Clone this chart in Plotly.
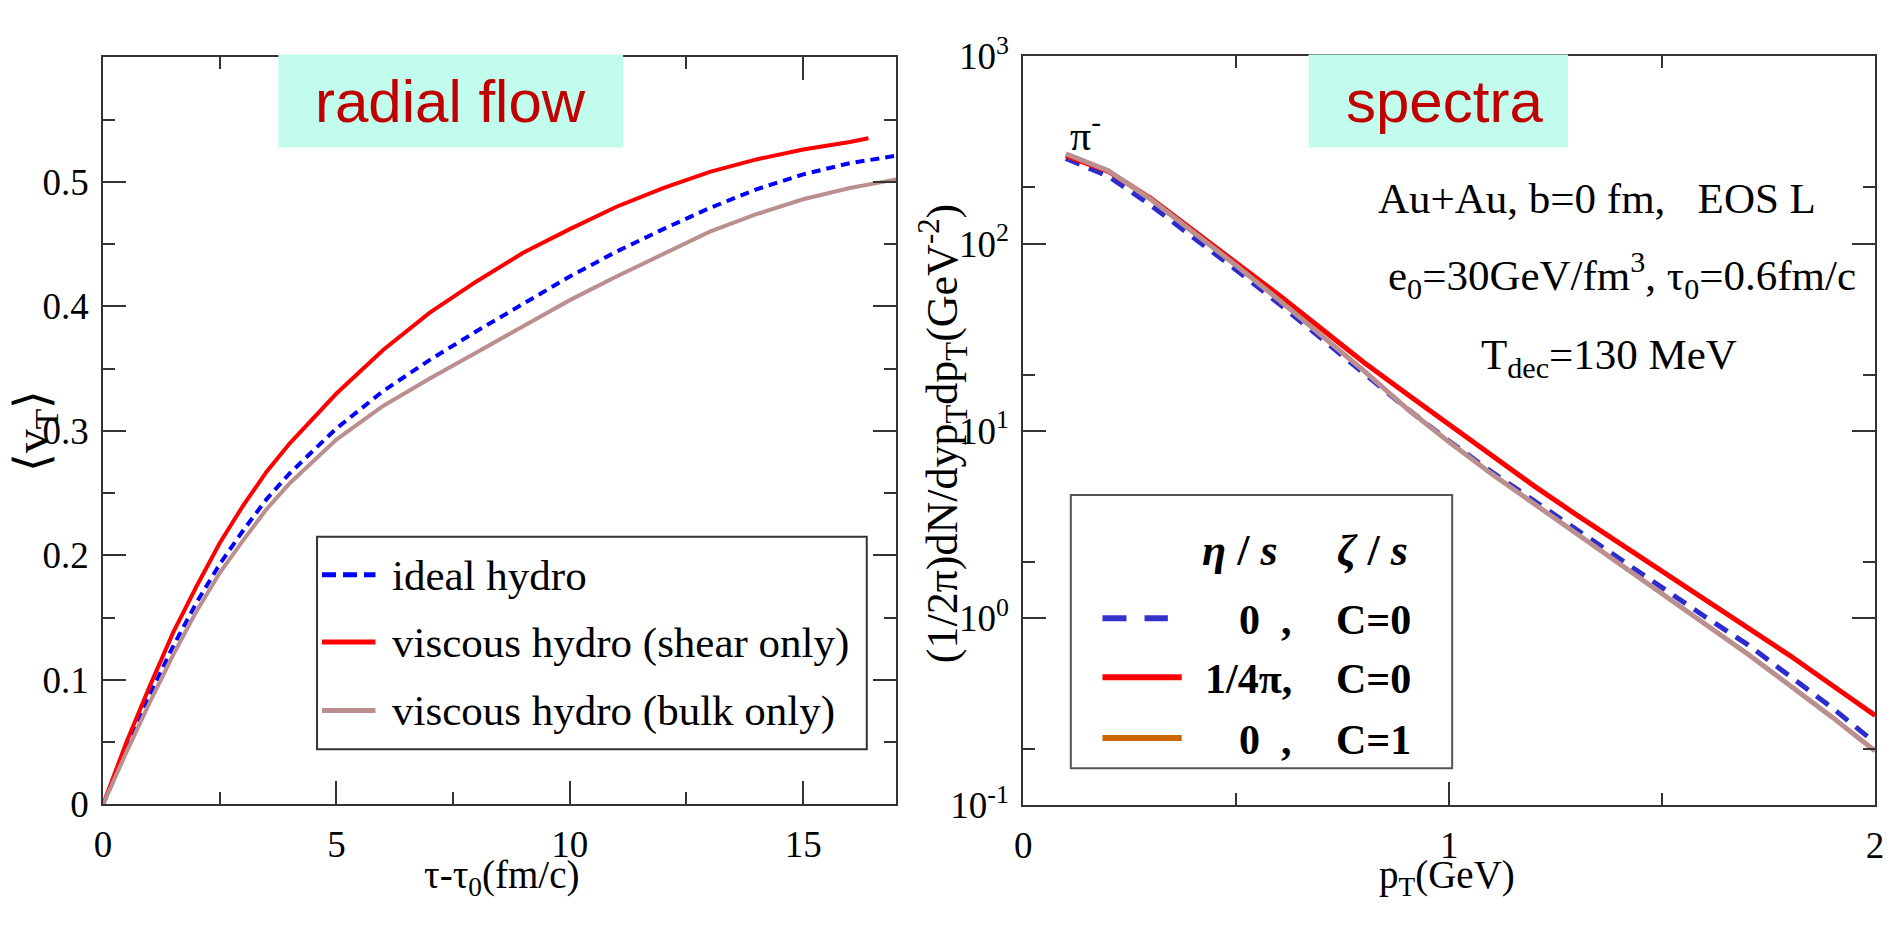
import plotly.graph_objects as go

# ---------------- data ----------------
tau = [0, 0.5, 1, 1.5, 2, 2.5, 3, 3.5, 4, 5, 6, 7, 8, 9, 10, 11, 12, 13, 14, 15, 16, 17]
vt_ideal = [0, 0.045, 0.088, 0.127, 0.162, 0.193, 0.220, 0.245, 0.266, 0.302, 0.332, 0.357,
            0.380, 0.402, 0.424, 0.444, 0.462, 0.479, 0.494, 0.506, 0.515, 0.521]
tau_shear = [0, 0.5, 1, 1.5, 2, 2.5, 3, 3.5, 4, 5, 6, 7, 8, 9, 10, 11, 12, 13, 14, 15, 16, 16.4]
vt_shear = [0, 0.050, 0.095, 0.138, 0.175, 0.210, 0.240, 0.267, 0.290, 0.330, 0.365, 0.395,
            0.420, 0.443, 0.462, 0.480, 0.495, 0.508, 0.518, 0.526, 0.532, 0.535]
vt_bulk = [0, 0.042, 0.082, 0.120, 0.155, 0.186, 0.212, 0.237, 0.258, 0.293, 0.320, 0.342,
           0.363, 0.384, 0.405, 0.424, 0.442, 0.460, 0.474, 0.486, 0.495, 0.502]

pt = [0.1, 0.2, 0.3, 0.4, 0.5, 0.6, 0.7, 0.8, 0.9, 1.0, 1.1, 1.2, 1.3, 1.4, 1.5, 1.6, 1.7, 1.8, 1.9, 2.0]
spec_ideal = [285, 229, 160, 108, 72.4, 47.9, 31.3, 20.4, 13.2, 8.81, 6.03, 4.22, 2.95, 2.07,
              1.45, 1.02, 0.724, 0.490, 0.331, 0.216]
spec_shear = [295, 243, 174, 117, 79.4, 53.1, 35.1, 23.2, 15.8, 10.8, 7.41, 5.07, 3.55, 2.51,
              1.78, 1.27, 0.891, 0.631, 0.437, 0.302]
spec_bulk = [302, 245, 172, 115, 76.4, 50.1, 32.4, 20.9, 13.2, 8.71, 5.89, 4.07, 2.82, 1.95,
             1.35, 0.933, 0.646, 0.437, 0.295, 0.195]

left_xticks = [0, 5, 10, 15]
left_yticks = [0, 0.1, 0.2, 0.3, 0.4, 0.5]
left_ytext = ["0", "0.1", "0.2", "0.3", "0.4", "0.5"]
right_xticks = [0, 1, 2]
right_yticks = [0.1, 1, 10, 100, 1000]
right_ytext = ["10<sup>-1</sup>", "10<sup>0</sup>", "10<sup>1</sup>", "10<sup>2</sup>", "10<sup>3</sup>"]

legend_left = ["ideal hydro", "viscous hydro (shear only)", "viscous hydro (bulk only)"]
legend_right_eta = ["0\u00a0\u00a0,", "1/4π,", "0\u00a0\u00a0,"]
legend_right_zeta = ["C=0", "C=0", "C=1"]

# ---------------- styling ----------------
W, H = 1893, 927
SERIF = "Liberation Serif, Times New Roman, serif"
SANS = "Liberation Sans, Arial, sans-serif"
RED = "#FF0000"
BLUE_L = "#0000FF"
BLUE_R = "#2B2BD0"
BROWN = "#BC8F8F"
ORANGE = "#CC6600"
AXC = "#333333"
BOXFILL = "#C2FCEC"
DARKRED = "#C00000"


def px(x):
    return x / W


def py(y):
    return 1 - y / H


fig = go.Figure()

# left panel
fig.add_trace(go.Scatter(x=tau, y=vt_ideal, mode="lines", xaxis="x", yaxis="y",
                         line=dict(color=BLUE_L, width=4, dash="9px,6px"), showlegend=False))
fig.add_trace(go.Scatter(x=tau_shear, y=vt_shear, mode="lines", xaxis="x", yaxis="y",
                         line=dict(color=RED, width=4), showlegend=False))
fig.add_trace(go.Scatter(x=tau, y=vt_bulk, mode="lines", xaxis="x", yaxis="y",
                         line=dict(color=BROWN, width=4), showlegend=False))
# right panel
fig.add_trace(go.Scatter(x=pt, y=spec_ideal, mode="lines", xaxis="x2", yaxis="y2",
                         line=dict(color=BLUE_R, width=5, dash="15px,10px"), showlegend=False))
fig.add_trace(go.Scatter(x=pt, y=spec_shear, mode="lines", xaxis="x2", yaxis="y2",
                         line=dict(color=RED, width=5), showlegend=False))
fig.add_trace(go.Scatter(x=pt, y=spec_bulk, mode="lines", xaxis="x2", yaxis="y2",
                         line=dict(color=BROWN, width=5), showlegend=False))

common = dict(showline=True, linewidth=2, linecolor=AXC, mirror="allticks", ticks="inside",
              tickwidth=2, tickcolor=AXC, showgrid=False, zeroline=False,
              ticklabeloverflow="allow",
              tickfont=dict(family=SERIF, size=37, color="black"))

fig.update_layout(
    width=W, height=H, margin=dict(l=0, r=0, t=0, b=0),
    paper_bgcolor="white", plot_bgcolor="white",
    xaxis=dict(domain=[px(95), px(896)], range=[0, 17], tickmode="array", tickvals=left_xticks,
               ticklen=23, minor=dict(dtick=2.5, tick0=0, ticklen=12, tickwidth=2, tickcolor=AXC, ticks="inside"),
               ticklabelstandoff=6, anchor="y", **common),
    yaxis=dict(domain=[py(820), py(33)], range=[0, 0.6], tickmode="array", tickvals=left_yticks,
               ticktext=left_ytext, ticklen=23,
               minor=dict(dtick=0.05, tick0=0, ticklen=12, tickwidth=2, tickcolor=AXC, ticks="inside"),
               ticklabelstandoff=5, anchor="x", **common),
    xaxis2=dict(domain=[px(1024), px(1884)], range=[0, 2], tickmode="array", tickvals=right_xticks,
                ticklen=23, minor=dict(tickmode="array", tickvals=[0.5, 1.5], ticklen=12, tickwidth=2,
                                       tickcolor=AXC, ticks="inside"),
                ticklabelstandoff=6, anchor="y2", **common),
    yaxis2=dict(domain=[py(821), py(32)], type="log", range=[-1, 3], tickmode="array",
                tickvals=right_yticks, ticktext=right_ytext, ticklen=23,
                minor=dict(tickmode="array", tickvals=[0.2, 2, 20, 200], ticklen=12, tickwidth=2,
                           tickcolor=AXC, ticks="inside"),
                ticklabelstandoff=5, anchor="x2", **common),
)

shapes = []
annotations = []

# title boxes
shapes.append(dict(type="rect", xref="paper", yref="paper", x0=px(272), x1=px(620), y0=py(128), y1=py(30),
                   fillcolor=BOXFILL, line=dict(width=0), layer="above"))
shapes.append(dict(type="rect", xref="paper", yref="paper", x0=px(1312), x1=px(1574), y0=py(128), y1=py(30),
                   fillcolor=BOXFILL, line=dict(width=0), layer="above"))
annotations.append(dict(text="radial flow", x=px(446), y=py(80), xref="paper", yref="paper",
                        showarrow=False, xanchor="center", yanchor="middle",
                        font=dict(family=SANS, size=60, color=DARKRED)))
annotations.append(dict(text="spectra", x=px(1449), y=py(80), xref="paper", yref="paper",
                        showarrow=False, xanchor="center", yanchor="middle",
                        font=dict(family=SANS, size=60, color=DARKRED)))

# axis titles
annotations.append(dict(text="τ-τ<sub>0</sub>(fm/c)", x=px(497), y=py(897), xref="paper", yref="paper",
                        showarrow=False, xanchor="center", yanchor="middle",
                        font=dict(family=SERIF, size=39, color="black")))
annotations.append(dict(text="p<sub>T</sub>(GeV)", x=px(1452), y=py(897), xref="paper", yref="paper",
                        showarrow=False, xanchor="center", yanchor="middle",
                        font=dict(family=SERIF, size=39, color="black")))
annotations.append(dict(text="⟨v<sub>T</sub>⟩", x=px(27), y=py(426), xref="paper", yref="paper",
                        showarrow=False, xanchor="center", yanchor="middle", textangle=-90,
                        font=dict(family=SERIF, size=48, color="black")))
annotations.append(dict(text="(1/2π)dN/dyp<sub>T</sub>dp<sub>T</sub>(GeV<sup>-2</sup>)", x=px(943), y=py(430),
                        xref="paper", yref="paper", showarrow=False, xanchor="center", yanchor="middle",
                        textangle=-90, font=dict(family=SERIF, size=44, color="black")))

# right panel text labels
annotations.append(dict(text="π<sup>-</sup>", x=px(1087), y=py(112), xref="paper", yref="paper",
                        showarrow=False, xanchor="center", yanchor="middle",
                        font=dict(family=SERIF, size=42, color="black")))
annotations.append(dict(text="Au+Au, b=0 fm,\u00a0\u00a0 EOS L", x=px(1603), y=py(182), xref="paper", yref="paper",
                        showarrow=False, xanchor="center", yanchor="middle",
                        font=dict(family=SERIF, size=43, color="black")))
annotations.append(dict(text="e<sub>0</sub>=30GeV/fm<sup>3</sup>, τ<sub>0</sub>=0.6fm/c", x=px(1628), y=py(263),
                        xref="paper", yref="paper", showarrow=False, xanchor="center", yanchor="middle",
                        font=dict(family=SERIF, size=43, color="black")))
annotations.append(dict(text="T<sub>dec</sub>=130 MeV", x=px(1615), y=py(350), xref="paper", yref="paper",
                        showarrow=False, xanchor="center", yanchor="middle",
                        font=dict(family=SERIF, size=43, color="black")))

# left legend
shapes.append(dict(type="rect", xref="paper", yref="paper", x0=px(311), x1=px(866), y0=py(762), y1=py(538),
                   fillcolor="white", line=dict(color=AXC, width=2), layer="above"))
ll_rows = [578, 649, 721]
ll_styles = [dict(color=BLUE_L, width=5, dash="14px,7px"), dict(color=RED, width=5), dict(color=BROWN, width=5)]
for yy, st, lab in zip(ll_rows, ll_styles, legend_left):
    shapes.append(dict(type="line", xref="paper", yref="paper", x0=px(316), x1=px(370), y0=py(yy), y1=py(yy),
                       line=st, layer="above"))
    annotations.append(dict(text=lab, x=px(385), y=py(yy + 1), xref="paper", yref="paper", showarrow=False,
                            xanchor="left", yanchor="middle", font=dict(family=SERIF, size=43, color="black")))

# right legend
shapes.append(dict(type="rect", xref="paper", yref="paper", x0=px(1072), x1=px(1457), y0=py(782), y1=py(494),
                   fillcolor="white", line=dict(color="#555555", width=2), layer="above"))
annotations.append(dict(text="<b><i>η</i> / <i>s</i></b>", x=px(1243), y=py(553), xref="paper", yref="paper",
                        showarrow=False, xanchor="center", yanchor="middle",
                        font=dict(family=SERIF, size=44, color="black")))
annotations.append(dict(text="<b><i>ζ</i> / <i>s</i></b>", x=px(1377), y=py(553), xref="paper", yref="paper",
                        showarrow=False, xanchor="center", yanchor="middle",
                        font=dict(family=SERIF, size=44, color="black")))
rl_rows = [624, 686, 750]
rl_styles = [dict(color="#3333CC", width=6, dash="24px,18px"), dict(color=RED, width=6), dict(color=ORANGE, width=6)]
rl_x1 = [1170, 1184, 1184]
for yy, st, x1, e, z in zip(rl_rows, rl_styles, rl_x1, legend_right_eta, legend_right_zeta):
    shapes.append(dict(type="line", xref="paper", yref="paper", x0=px(1104), x1=px(x1), y0=py(yy), y1=py(yy),
                       line=st, layer="above"))
    annotations.append(dict(text="<b>" + e + "</b>", x=px(1297), y=py(yy + 2), xref="paper", yref="paper",
                            showarrow=False, xanchor="right", yanchor="middle",
                            font=dict(family=SERIF, size=42, color="black")))
    annotations.append(dict(text="<b>" + z + "</b>", x=px(1338), y=py(yy + 2), xref="paper", yref="paper",
                            showarrow=False, xanchor="left", yanchor="middle",
                            font=dict(family=SERIF, size=42, color="black")))

fig.update_layout(shapes=shapes, annotations=annotations)

fig.write_html("out.html")
